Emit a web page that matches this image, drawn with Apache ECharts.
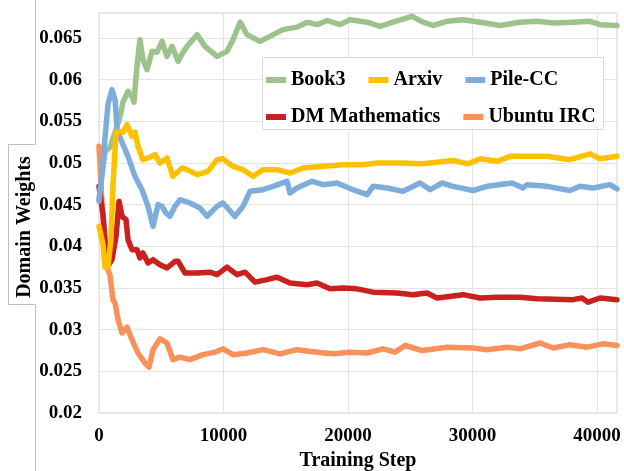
<!DOCTYPE html>
<html>
<head>
<meta charset="utf-8">
<script src="https://cdn.jsdelivr.net/npm/echarts@6/dist/echarts.min.js"></script>
<style>html,body{margin:0;padding:0;background:#fff;}#c{width:624px;height:471px;}</style>
</head>
<body>
<div id="c"></div>
<script>
const seriesNames = ['Book3', 'Arxiv', 'Pile-CC', 'DM Mathematics', 'Ubuntu IRC'];
const xTicks = [0, 10000, 20000, 30000, 40000];
const yTicks = [0.02, 0.025, 0.03, 0.035, 0.04, 0.045, 0.05, 0.055, 0.06, 0.065];

const book3 = [[0,0.0456],[480,0.0513],[880,0.0519],[1450,0.0544],[1690,0.0556],[1930,0.0573],[2330,0.0586],[2650,0.0580],[2810,0.0573],[3050,0.0616],[3290,0.0648],[3530,0.0624],[3860,0.0612],[4260,0.0634],[4660,0.0633],[5060,0.0646],[5460,0.0628],[5860,0.0640],[6350,0.0622],[6750,0.0633],[7070,0.0640],[7870,0.0654],[8510,0.0640],[9480,0.0628],[10280,0.0634],[10760,0.0648],[11330,0.0669],[11890,0.0654],[12930,0.0646],[13730,0.0652],[14780,0.0660],[15900,0.0663],[16710,0.0669],[17510,0.0666],[18310,0.0671],[19360,0.0666],[20160,0.0672],[21530,0.0669],[22570,0.0664],[23610,0.0669],[25140,0.0676],[26020,0.0669],[26830,0.0665],[27950,0.0670],[29240,0.0672],[30600,0.0669],[32210,0.0665],[33810,0.0669],[35180,0.0670],[36470,0.0668],[38070,0.0669],[39440,0.0670],[40240,0.0666],[41600,0.0665]];

const arxiv = [[0,0.0424],[320,0.0402],[480,0.0375],[720,0.0375],[960,0.0408],[1120,0.0472],[1370,0.0537],[1690,0.0538],[1930,0.0537],[2250,0.0546],[2650,0.0532],[2890,0.0537],[3130,0.0520],[3530,0.0504],[3940,0.0506],[4500,0.0510],[4900,0.0500],[5460,0.0506],[5940,0.0484],[6670,0.0494],[7070,0.0492],[7870,0.0486],[8750,0.0490],[9480,0.0504],[9960,0.0505],[10760,0.0496],[11570,0.0492],[12370,0.0484],[13170,0.0492],[14300,0.0492],[15340,0.0488],[16390,0.0494],[17990,0.0496],[19600,0.0498],[21200,0.0498],[22330,0.0500],[24180,0.0500],[26020,0.0499],[28430,0.0503],[29640,0.0499],[30600,0.0505],[31970,0.0502],[33010,0.0508],[34620,0.0508],[35980,0.0508],[37830,0.0504],[39440,0.0511],[40240,0.0505],[41600,0.0508]];

const pileCC = [[0,0.0454],[400,0.0516],[720,0.0570],[1040,0.0588],[1290,0.0576],[1450,0.0540],[1850,0.0525],[2330,0.0508],[2890,0.0484],[3450,0.0468],[3940,0.0448],[4340,0.0424],[4740,0.0450],[5060,0.0448],[5380,0.0440],[5700,0.0436],[6100,0.0448],[6510,0.0456],[7310,0.0452],[8110,0.0446],[8670,0.0436],[9480,0.0448],[9960,0.0452],[10920,0.0436],[11570,0.0448],[12130,0.0466],[13170,0.0468],[13980,0.0472],[15100,0.0478],[15340,0.0464],[15900,0.0470],[17110,0.0478],[17990,0.0474],[19120,0.0476],[20400,0.0468],[21530,0.0462],[22010,0.0472],[23130,0.0470],[24420,0.0466],[25780,0.0476],[26590,0.0468],[27550,0.0476],[28430,0.0472],[30040,0.0467],[31160,0.0472],[33170,0.0476],[34060,0.0470],[34380,0.0474],[35980,0.0472],[37830,0.0467],[38630,0.0472],[39680,0.0470],[41040,0.0474],[41600,0.0469]];

const dmMath = [[0,0.0472],[320,0.0438],[640,0.0375],[1040,0.0384],[1370,0.0412],[1610,0.0454],[1850,0.0436],[2170,0.0432],[2330,0.0408],[2650,0.0396],[3050,0.0396],[3290,0.0386],[3530,0.0392],[3940,0.0380],[4340,0.0384],[4900,0.0378],[5460,0.0374],[6100,0.0382],[6350,0.0382],[6910,0.0368],[7870,0.0368],[8920,0.0369],[9480,0.0366],[10280,0.0375],[11080,0.0366],[11730,0.0369],[12530,0.0357],[13490,0.0360],[14300,0.0363],[15340,0.0356],[16710,0.0354],[17510,0.0356],[18550,0.0349],[19600,0.0350],[20720,0.0349],[22010,0.0345],[23940,0.0344],[25220,0.0342],[26340,0.0344],[27150,0.0338],[29240,0.0342],[30600,0.0338],[31970,0.0339],[33810,0.0339],[35180,0.0337],[38070,0.0336],[38790,0.0338],[39280,0.0333],[40240,0.0338],[41600,0.0336]];

const ubuntuIRC = [[0,0.0520],[240,0.0452],[480,0.0408],[640,0.0375],[880,0.0366],[1120,0.0336],[1290,0.0332],[1530,0.0312],[1850,0.0296],[2250,0.0303],[2650,0.0288],[3130,0.0272],[3690,0.0260],[4020,0.0255],[4340,0.0276],[4900,0.0289],[5460,0.0284],[5940,0.0264],[6510,0.0267],[7310,0.0264],[8350,0.0270],[9320,0.0273],[9960,0.0277],[10760,0.0270],[11890,0.0272],[13170,0.0276],[14540,0.0271],[15900,0.0276],[17510,0.0273],[18800,0.0271],[20160,0.0273],[21530,0.0272],[22810,0.0277],[23770,0.0273],[24580,0.0281],[25940,0.0275],[27950,0.0279],[30040,0.0278],[31160,0.0276],[32770,0.0279],[33810,0.0277],[35420,0.0284],[36470,0.0278],[37830,0.0282],[39200,0.0279],[40480,0.0283],[41600,0.0281]];

const colors = {
  'Book3': '#9DC28B',
  'Arxiv': '#FFC000',
  'Pile-CC': '#7EADDB',
  'DM Mathematics': '#C8211F',
  'Ubuntu IRC': '#F8915A'
};
const dataByName = {
  'Book3': book3,
  'Arxiv': arxiv,
  'Pile-CC': pileCC,
  'DM Mathematics': dmMath,
  'Ubuntu IRC': ubuntuIRC
};
const drawOrder = ['Book3', 'Ubuntu IRC', 'DM Mathematics', 'Pile-CC', 'Arxiv'];

const font = 'Liberation Serif, Times New Roman, serif';
const chart = echarts.init(document.getElementById('c'), null, {renderer: 'canvas'});

const legendCommon = {
  orient: 'horizontal',
  icon: 'rect',
  itemWidth: 20,
  itemHeight: 6,
  itemGap: 23,
  padding: 0,
  selectedMode: false,
  textStyle: {fontFamily: font, fontWeight: 'bold', fontSize: 20, color: '#000', padding: [0,0,0,0]},
  z: 5
};

chart.setOption({
  animation: false,
  backgroundColor: '#fff',
  grid: {left: 99, right: 7, top: 13, bottom: 58, show: true, borderColor: '#d9d9d9', borderWidth: 1, containLabel: false, outerBoundsMode: 'none'},
  legend: [
    Object.assign({}, legendCommon, {data: seriesNames.slice(0, 3), left: 266, top: 70}),
    Object.assign({}, legendCommon, {data: seriesNames.slice(3), left: 266, top: 107})
  ],
  xAxis: {
    type: 'value',
    min: xTicks[0],
    max: 41600,
    interval: xTicks[1] - xTicks[0],
    name: 'Training Step',
    nameLocation: 'middle',
    nameGap: 35,
    nameTextStyle: {fontFamily: font, fontWeight: 'bold', fontSize: 20, color: '#000'},
    axisLine: {show: false},
    axisTick: {show: false},
    axisLabel: {showMaxLabel: false, margin: 14, fontFamily: font, fontWeight: 'bold', fontSize: 19, color: '#000',
      formatter: function (v) { return String(Math.round(v)); }},
    splitLine: {show: true, lineStyle: {color: '#e4e4e4', width: 1}}
  },
  yAxis: {
    type: 'value',
    min: yTicks[0],
    max: 0.068,
    interval: yTicks[1] - yTicks[0],
    axisLine: {show: false},
    axisTick: {show: false},
    axisLabel: {showMaxLabel: false, margin: 17, fontFamily: font, fontWeight: 'bold', fontSize: 19, color: '#000',
      formatter: function (v) { return String(Math.round(v * 1000) / 1000); }},
    splitLine: {show: true, lineStyle: {color: '#e4e4e4', width: 1}}
  },
  graphic: [
    {type: 'polyline', shape: {points: [[35.5,0],[35.5,144.5],[8.5,144.5],[8.5,304.5],[35.5,304.5],[35.5,471]]}, style: {stroke: '#bfbfbf', fill: null, lineWidth: 1}, silent: true},
    {type: 'text', x: 25, y: 227, rotation: Math.PI / 2, style: {text: 'Domain Weights', fontFamily: font, fontWeight: 'bold', fontSize: 20, fill: '#000', textAlign: 'center', textVerticalAlign: 'middle'}},
    {type: 'rect', shape: {x: 262.5, y: 57.5, width: 341, height: 72}, style: {fill: '#fff', stroke: '#d9d9d9', lineWidth: 1}, z: 3, silent: true}
  ],
  series: drawOrder.map(function (n) {
    return {
      name: n,
      type: 'line',
      data: dataByName[n],
      showSymbol: false,
      symbol: 'none',
      smooth: false,
      color: colors[n],
      lineStyle: {width: 5.5, color: colors[n], join: 'round', cap: 'round'},
      itemStyle: {color: colors[n]},
      z: 2
    };
  })
});
</script>
</body>
</html>
